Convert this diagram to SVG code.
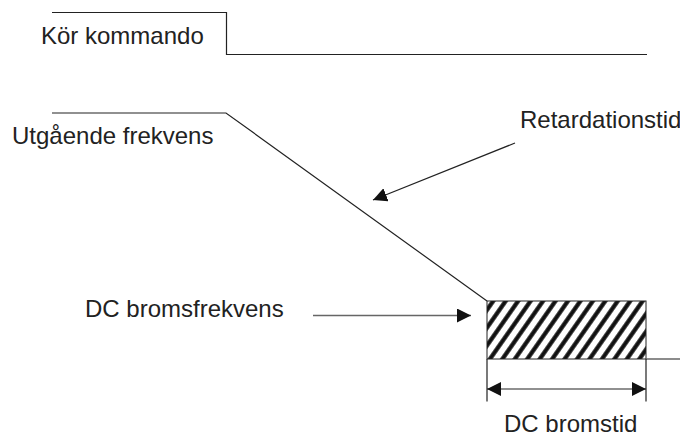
<svg xmlns="http://www.w3.org/2000/svg" width="680" height="436" viewBox="0 0 680 436">
  <style>
    .label { font-family: "Liberation Sans", Arial, sans-serif; font-size: 24px; fill: #222; }
    .wire { fill: none; stroke: #222; stroke-width: 1.2; }
    .grey { fill: none; stroke: #666; stroke-width: 1.4; }
  </style>
  <defs>
    <marker id="head" viewBox="0 0 14 14" refX="14" refY="7" markerWidth="14" markerHeight="14" markerUnits="userSpaceOnUse" orient="auto-start-reverse">
      <path d="M0,0 L14,7 L0,14 Z" fill="#111"/>
    </marker>
    <!-- diagonal hatching, stripes about 55 degrees from horizontal -->
    <pattern id="hatch" patternUnits="userSpaceOnUse" width="10.2" height="10" patternTransform="translate(487 301) rotate(35)">
      <path d="M5.1,-1 V11" stroke="#111" stroke-width="4.2"/>
    </pattern>
  </defs>

  <!-- run command signal -->
  <g id="run-command">
    <path class="wire" d="M52,12.5 H226.5 V54.5 H647"/>
    <text class="label" x="41" y="44">Kör kommando</text>
  </g>

  <!-- output frequency curve -->
  <g id="output-frequency">
    <path class="wire" d="M52,113 H226 L487,301"/>
    <text class="label" x="12" y="144">Utgående frekvens</text>
  </g>

  <!-- labels -->
  <g id="deceleration-time">
    <text class="label" x="520" y="128">Retardationstid</text>
  </g>
  <g id="dc-brake-frequency">
    <text class="label" x="85" y="317">DC bromsfrekvens</text>
  </g>

  <!-- DC braking interval -->
  <g id="dc-brake-block">
    <rect x="487" y="301" width="159" height="58" fill="url(#hatch)" stroke="#222" stroke-width="1"/>
    <path class="grey" d="M646,359 H680"/>
    <path class="wire" d="M487,359 V401.5 M646,359 V401.5"/>
  </g>
  <g id="dc-brake-time">
    <text class="label" x="504" y="432">DC bromstid</text>
  </g>

  <!-- connectors -->
  <g id="connectors">
    <path class="wire" d="M515,143 L373,200" marker-end="url(#head)"/>
    <path class="grey" d="M313,315.5 H471" marker-end="url(#head)"/>
    <path class="wire" d="M487,389 H646" marker-start="url(#head)" marker-end="url(#head)"/>
  </g>
</svg>
